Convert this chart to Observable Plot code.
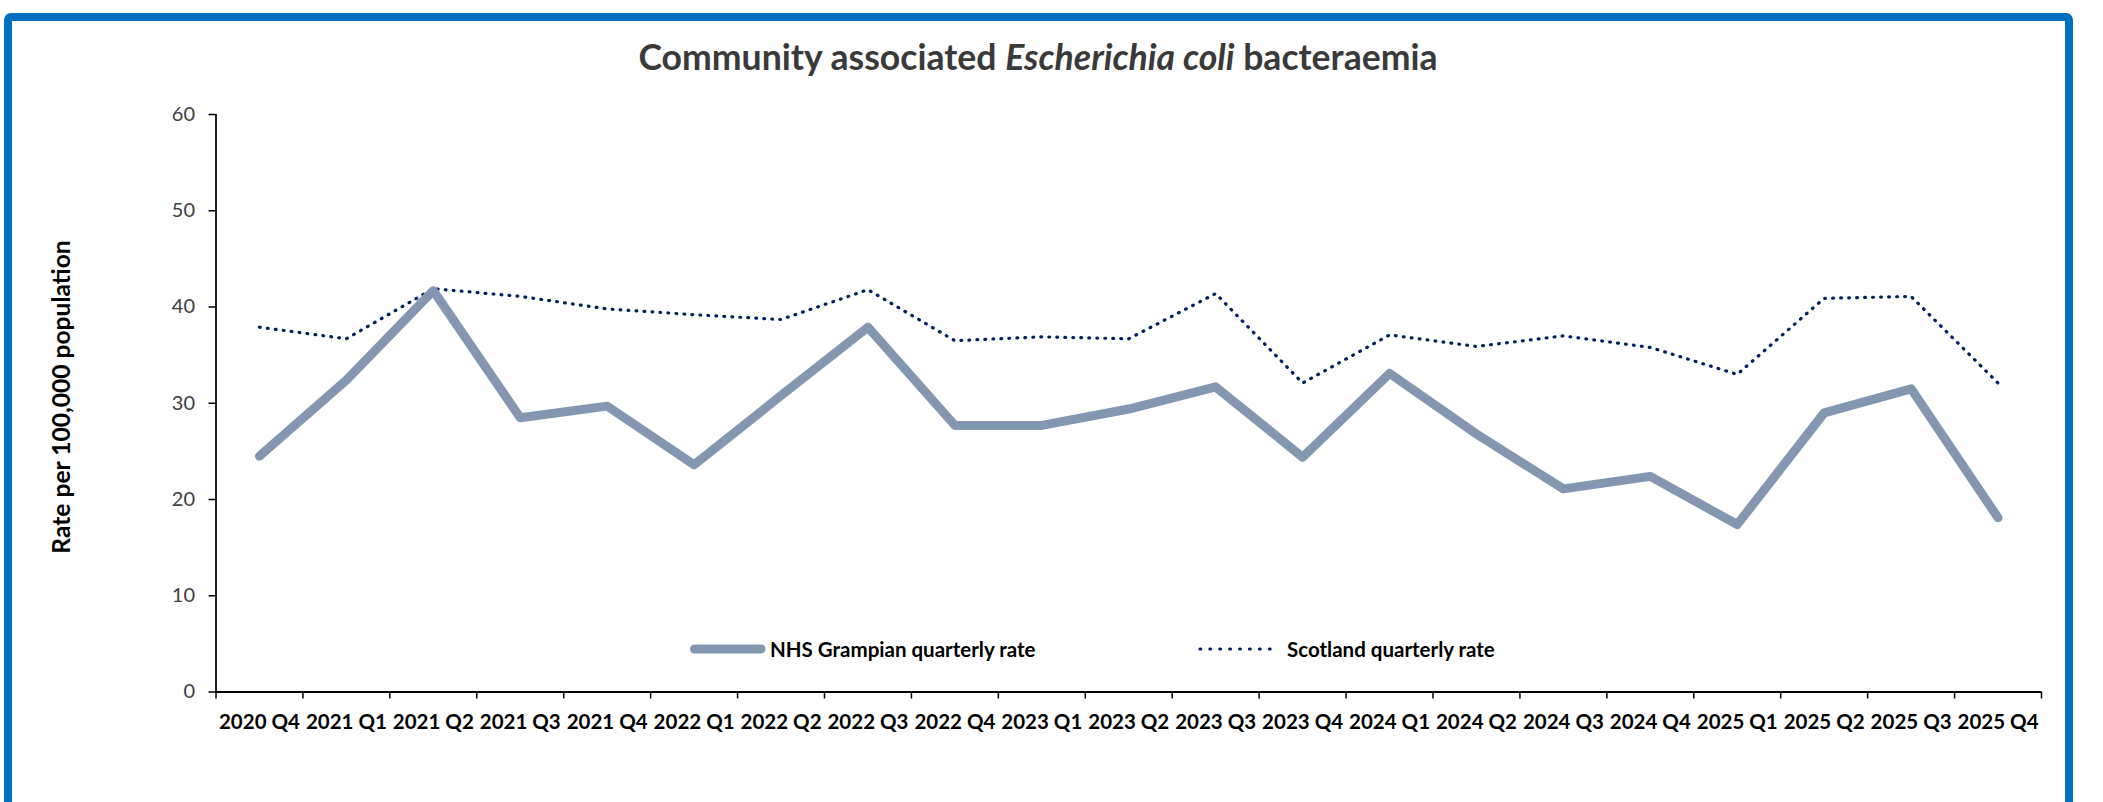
<!DOCTYPE html>
<html>
<head>
<meta charset="utf-8">
<script src="https://cdn.jsdelivr.net/npm/d3@7"></script>
<script src="https://cdn.jsdelivr.net/npm/@observablehq/plot@0.6"></script>
<style>
  html, body { margin: 0; padding: 0; background: #fff; }
  body { width: 2103px; height: 802px; overflow: hidden; position: relative; font-family: Lato, "Open Sans", sans-serif; }
  #frame { position: absolute; left: 3.5px; top: 12.7px; width: 2069.5px; height: 900px; box-sizing: border-box; border: 8px solid #0070C0; border-radius: 7px; }
  #title { position: absolute; left: 38px; width: 2000px; top: 35px; text-align: center; font-size: 35.6px; font-weight: bold; color: #3a3a3a; white-space: nowrap; }
  #ylabel { position: absolute; left: 60px; top: 396.5px; transform: translate(-50%, -50%) rotate(-90deg); font-size: 24.6px; font-weight: bold; color: #000; white-space: nowrap; }
  #chart { position: absolute; left: 0; top: 90px; }
  .leg { position: absolute; top: 649px; transform: translateY(-50%); display: flex; align-items: center; font-size: 20.5px; font-weight: bold; color: #000; white-space: nowrap; }
</style>
</head>
<body>
<div id="frame"></div>
<div id="title">Community associated <i>Escherichia coli</i> bacteraemia</div>
<div id="ylabel">Rate per 100,000 population</div>
<div id="chart"></div>
<div class="leg" id="leg1" style="left:686px"></div>
<div class="leg" id="leg2" style="left:1196px"></div>
<script>
const categories = [
  "2020 Q4",
  "2021 Q1", "2021 Q2", "2021 Q3", "2021 Q4",
  "2022 Q1", "2022 Q2", "2022 Q3", "2022 Q4",
  "2023 Q1", "2023 Q2", "2023 Q3", "2023 Q4",
  "2024 Q1", "2024 Q2", "2024 Q3", "2024 Q4",
  "2025 Q1", "2025 Q2", "2025 Q3", "2025 Q4"
];
const grampian = [24.5, 32.4, 41.7, 28.5, 29.7, 23.6, 30.8, 37.9, 27.7, 27.7, 29.4, 31.7, 24.4, 33.1, 26.8, 21.1, 22.4, 17.4, 29.0, 31.5, 18.1];
const scotland = [37.9, 36.7, 41.9, 41.1, 39.8, 39.2, 38.7, 41.8, 36.5, 36.9, 36.7, 41.4, 32.1, 37.1, 35.9, 37.0, 35.8, 33.0, 40.9, 41.1, 32.1];
const yTicks = [0, 10, 20, 30, 40, 50, 60];
const seriesNames = ["NHS Grampian quarterly rate", "Scotland quarterly rate"];

const gColor = "#8497B0";
const sColor = "#002060";

const gData = categories.map((c, i) => ({pos: i + 0.5, cat: c, value: grampian[i]}));
const sData = categories.map((c, i) => ({pos: i + 0.5, cat: c, value: scotland[i]}));
const boundaries = d3.range(categories.length + 1);
const centers = categories.map((c, i) => i + 0.5);

const plot = Plot.plot({
  width: 2103,
  height: 712,
  marginLeft: 215.5,
  marginRight: 62,
  marginTop: 24,
  marginBottom: 110.5,
  style: {fontFamily: "Lato, 'Open Sans', sans-serif", background: "transparent", overflow: "visible"},
  x: {type: "linear", domain: [0, categories.length]},
  y: {domain: [0, 60]},
  marks: [
    Plot.axisY({ticks: yTicks, tickSize: 7, tickPadding: 14, stroke: "#000", fill: "#404040", fontSize: 20, strokeWidth: 1.5, label: null, tickFormat: d => String(d)}),
    Plot.axisX({ticks: boundaries, tickSize: 7, stroke: "#000", strokeWidth: 1.5, tickFormat: () => "", label: null}),
    Plot.axisX({ticks: centers, tickSize: 0, tickPadding: 22, fill: "#000", fontSize: 20.5, fontWeight: "bold", tickFormat: d => categories[Math.round(d - 0.5)], label: null}),
    Plot.ruleX([0], {stroke: "#000", strokeWidth: 1.75}),
    Plot.ruleY([0], {stroke: "#000", strokeWidth: 2}),
    Plot.line(sData, {x: "pos", y: "value", stroke: sColor, strokeWidth: 3.2, strokeDasharray: "0.8 7.2", strokeLinecap: "round", strokeLinejoin: "round"}),
    Plot.line(gData, {x: "pos", y: "value", stroke: gColor, strokeWidth: 9, strokeLinecap: "round", strokeLinejoin: "round"})
  ]
});
document.getElementById("chart").appendChild(plot);

// legend
function swatch(kind) {
  const ns = "http://www.w3.org/2000/svg";
  const svg = document.createElementNS(ns, "svg");
  svg.setAttribute("width", kind === "g" ? 80 : 82);
  svg.setAttribute("height", 12);
  svg.style.marginRight = kind === "g" ? "4px" : "9px";
  const line = document.createElementNS(ns, "line");
  line.setAttribute("x1", kind === "g" ? 8.5 : 4);
  line.setAttribute("x2", kind === "g" ? 75 : 80);
  line.setAttribute("y1", 6); line.setAttribute("y2", 6);
  line.setAttribute("stroke-linecap", "round");
  if (kind === "g") {
    line.setAttribute("stroke", gColor); line.setAttribute("stroke-width", 9);
  } else {
    line.setAttribute("stroke", sColor); line.setAttribute("stroke-width", 3.2);
    line.setAttribute("stroke-dasharray", "0.8 9.1");
  }
  svg.appendChild(line);
  return svg;
}
const l1 = document.getElementById("leg1");
l1.appendChild(swatch("g"));
l1.appendChild(document.createTextNode(seriesNames[0]));
const l2 = document.getElementById("leg2");
l2.appendChild(swatch("s"));
l2.appendChild(document.createTextNode(seriesNames[1]));
</script>
</body>
</html>
